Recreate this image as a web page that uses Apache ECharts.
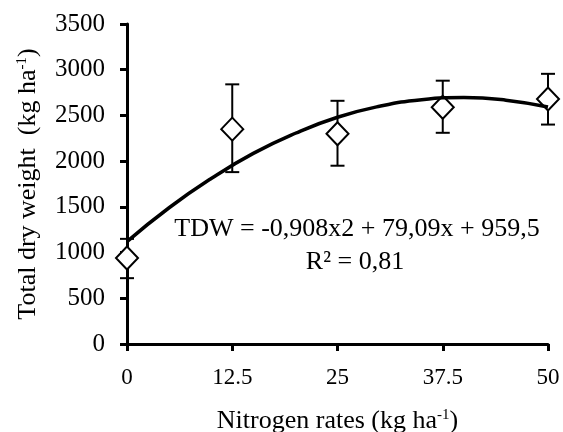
<!DOCTYPE html>
<html>
<head>
<meta charset="utf-8">
<script src="https://cdn.jsdelivr.net/npm/echarts@6/dist/echarts.min.js"></script>
<style>html,body{margin:0;padding:0;background:#fff}#c{width:563px;height:432px}</style>
</head>
<body>
<div id="c"></div>
<script>
// Data
var nRates = [0, 12.5, 25, 37.5, 50];
var tdwMean = [940, 2350, 2300, 2590, 2680];
var tdwLow = [720, 1880, 1950, 2310, 2400];
var tdwHigh = [1150, 2840, 2660, 2880, 2955];
// Fitted trend line as drawn in the reference
var fitX = [0, 5, 10, 15, 20, 25, 30, 35, 40, 45, 50];
var fitY = [1120, 1490, 1810, 2085, 2305, 2480, 2600, 2672, 2695, 2667, 2593];
var yTicks = [0, 500, 1000, 1500, 2000, 2500, 3000, 3500];
var xTicks = [0, 12.5, 25, 37.5, 50];
var eqLine1 = 'TDW = -0,908x2 + 79,09x + 959,5';
var eqLine2 = 'R\u00B2 = 0,81';

var FONT = '"Liberation Serif", "Times New Roman", serif';
var chart = echarts.init(document.getElementById('c'));

var meanData = nRates.map(function (x, i) { return [x, tdwMean[i]]; });
var errData = nRates.map(function (x, i) { return [x, tdwLow[i], tdwHigh[i]]; });
var fitData = fitX.map(function (x, i) { return [x, fitY[i]]; });

var option = {
  animation: false,
  backgroundColor: '#fff',
  grid: { left: 127, right: 15, top: 24, bottom: 88, outerBoundsMode: 'none', containLabel: false },
  xAxis: {
    type: 'value', min: xTicks[0], max: xTicks[xTicks.length - 1], interval: 12.5,
    axisLine: { show: true, lineStyle: { color: '#000', width: 3 } },
    axisTick: { show: true, length: 7, lineStyle: { color: '#000', width: 3 } },
    splitLine: { show: false },
    axisLabel: { color: '#000', fontFamily: FONT, fontSize: 23, margin: 22,
      formatter: function (v) { return String(v); } },
    name: '{t|Nitrogen rates (kg ha}{s|-1}{t|)}',
    nameLocation: 'middle', nameGap: 64,
    nameTextStyle: {
      rich: {
        t: { fontFamily: FONT, fontSize: 26, color: '#000' },
        s: { fontFamily: FONT, fontSize: 15, color: '#000', verticalAlign: 'top', padding: [0, 0, 10, 0] }
      }
    }
  },
  yAxis: {
    type: 'value', min: 0, max: 3500, interval: 500,
    axisLine: { show: true, lineStyle: { color: '#000', width: 3 } },
    axisTick: { show: true, length: 7, lineStyle: { color: '#000', width: 3 } },
    splitLine: { show: false },
    axisLabel: { color: '#000', fontFamily: FONT, fontSize: 25, margin: 22,
      formatter: function (v) { return String(v); } },
    name: '{t|Total dry weight  (kg ha}{s|-1}{t|)}',
    nameLocation: 'middle', nameGap: 86, nameRotate: 90,
    nameTextStyle: {
      rich: {
        t: { fontFamily: FONT, fontSize: 26, color: '#000' },
        s: { fontFamily: FONT, fontSize: 15, color: '#000', verticalAlign: 'top', padding: [0, 0, 10, 0] }
      }
    }
  },
  series: [
    {
      type: 'custom',
      z: 2,
      data: errData,
      renderItem: function (params, api) {
        var x = api.value(0);
        var lo = api.coord([x, api.value(1)]);
        var hi = api.coord([x, api.value(2)]);
        var w = 7;
        var st = { stroke: '#000', lineWidth: 2 };
        return {
          type: 'group',
          children: [
            { type: 'line', shape: { x1: lo[0], y1: lo[1], x2: hi[0], y2: hi[1] }, style: st },
            { type: 'line', shape: { x1: lo[0] - w, y1: lo[1], x2: lo[0] + w, y2: lo[1] }, style: st },
            { type: 'line', shape: { x1: hi[0] - w, y1: hi[1], x2: hi[0] + w, y2: hi[1] }, style: st }
          ]
        };
      }
    },
    {
      type: 'scatter',
      z: 3,
      data: meanData,
      symbol: 'diamond',
      symbolSize: [22, 23],
      itemStyle: { color: '#fff', borderColor: '#000', borderWidth: 2, opacity: 1 }
    },
    {
      type: 'line',
      z: 4,
      data: fitData,
      smooth: true,
      showSymbol: false,
      lineStyle: { color: '#000', width: 3.5, opacity: 1 }
    }
  ],
  graphic: [
    { type: 'text', z: 10, style: { text: eqLine1, x: 357, y: 229, align: 'center', verticalAlign: 'middle', fontFamily: FONT, fontSize: 26, fill: '#000' } },
    { type: 'text', z: 10, style: { text: eqLine2, x: 355, y: 262, align: 'center', verticalAlign: 'middle', fontFamily: FONT, fontSize: 26, fill: '#000' } }
  ]
};
chart.setOption(option);
</script>
</body>
</html>
